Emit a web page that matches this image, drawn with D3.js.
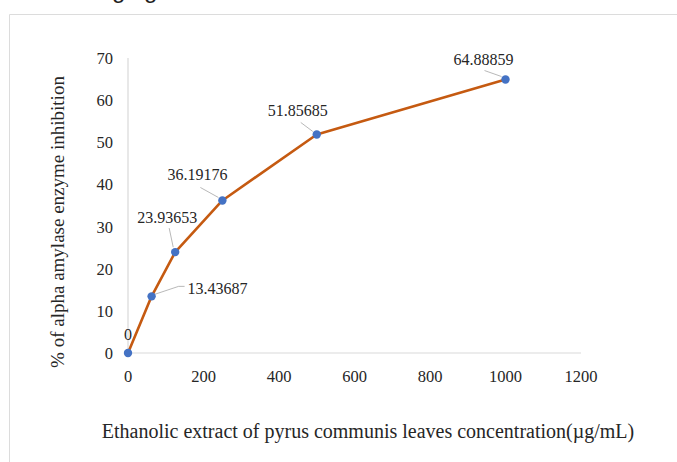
<!DOCTYPE html>
<html>
<head>
<meta charset="utf-8">
<script src="https://cdn.jsdelivr.net/npm/d3@7"></script>
<style>
  body { margin: 0; background: #fff; }
  text { font-family: "Liberation Serif", "Times New Roman", serif; fill: #262626; }
</style>
</head>
<body>
<div id="chart"></div>
<script>
const concentrations = [0, 62.5, 125, 250, 500, 1000];
const inhibition = [0, 13.43687, 23.93653, 36.19176, 51.85685, 64.88859];
const pointLabels = ["0", "13.43687", "23.93653", "36.19176", "51.85685", "64.88859"];
const xTicks = [0, 200, 400, 600, 800, 1000, 1200];
const yTicks = [0, 10, 20, 30, 40, 50, 60, 70];

// label placement relative to each point: text centre offset + leader line
const labelPos = [
  { dx: 0, dy: -19, leader: null },
  { dx: 66, dy: -8, leader: [[3, -2], [27, -10], [33, -10]] },
  { dx: -8, dy: -35, leader: [[-2, -5], [-6, -24]] },
  { dx: -25, dy: -26, leader: [[-4, -3], [-22, -13]] },
  { dx: -19, dy: -24, leader: [[-4, -3], [-16, -12]] },
  { dx: -22, dy: -21, leader: [[-4, -3], [-21, -9]] }
];

const width = 677, height = 462;

const svg = d3.select("#chart")
  .append("svg")
  .attr("width", width)
  .attr("height", height);

// cut-off line of document text above the figure
svg.append("text")
  .attr("x", -8)
  .attr("y", -2)
  .style("font-family", "Liberation Sans, sans-serif")
  .style("font-size", "24px")
  .style("fill", "#222")
  .text("the following figure");

// chart frame
svg.append("path")
  .attr("d", "M9.5," + height + "V14.5H" + width)
  .attr("fill", "none")
  .attr("stroke", "#dcdcdc");

const x = d3.scaleLinear().domain([0, 1200]).range([128, 581]);
const y = d3.scaleLinear().domain([0, 70]).range([353, 58]);

// axes
svg.append("line")
  .attr("x1", x(0)).attr("x2", x(1200))
  .attr("y1", y(0)).attr("y2", y(0))
  .attr("stroke", "#d9d9d9").attr("stroke-width", 1.2);

svg.append("line")
  .attr("x1", x(0)).attr("x2", x(0))
  .attr("y1", y(0)).attr("y2", y(70))
  .attr("stroke", "#d9d9d9").attr("stroke-width", 1.2);

svg.selectAll(".xtick")
  .data(xTicks)
  .enter()
  .append("text")
  .attr("class", "xtick")
  .attr("x", (d) => x(d))
  .attr("y", 382)
  .attr("text-anchor", "middle")
  .style("font-size", "16.5px")
  .text((d) => d);

svg.selectAll(".ytick")
  .data(yTicks)
  .enter()
  .append("text")
  .attr("class", "ytick")
  .attr("x", 113)
  .attr("y", (d) => y(d) + 6)
  .attr("text-anchor", "end")
  .style("font-size", "16.5px")
  .text((d) => d);

// axis titles
svg.append("text")
  .attr("text-anchor", "middle")
  .attr("x", 368)
  .attr("y", 438)
  .style("font-size", "20px")
  .text("Ethanolic extract of pyrus communis leaves concentration(\u00b5g/mL)");

svg.append("text")
  .attr("text-anchor", "middle")
  .attr("transform", "translate(64,222) rotate(-90)")
  .style("font-size", "19px")
  .text("% of alpha amylase enzyme inhibition");

const points = concentrations.map((c, i) => ({ c: c, v: inhibition[i], label: pointLabels[i], pos: labelPos[i] }));

// leader lines
svg.append("g")
  .selectAll("path")
  .data(points.filter((d) => d.pos.leader))
  .enter()
  .append("path")
  .attr("d", (d) => d3.line()(d.pos.leader.map((p) => [x(d.c) + p[0], y(d.v) + p[1]])))
  .attr("fill", "none")
  .attr("stroke", "#a6a6a6")
  .attr("stroke-width", 0.8);

// series line
svg.append("path")
  .datum(points)
  .attr("d", d3.line().x((d) => x(d.c)).y((d) => y(d.v)))
  .attr("fill", "none")
  .attr("stroke", "#c55a11")
  .attr("stroke-width", 2.6)
  .attr("stroke-linejoin", "round");

svg.append("g")
  .selectAll("circle")
  .data(points)
  .enter()
  .append("circle")
  .attr("cx", (d) => x(d.c))
  .attr("cy", (d) => y(d.v))
  .attr("r", 4.2)
  .attr("fill", "#4472c4");

svg.append("g")
  .selectAll("text")
  .data(points)
  .enter()
  .append("text")
  .attr("x", (d) => x(d.c) + d.pos.dx)
  .attr("y", (d) => y(d.v) + d.pos.dy + 6)
  .attr("text-anchor", "middle")
  .style("font-size", "16px")
  .text((d) => d.label);
</script>
</body>
</html>
